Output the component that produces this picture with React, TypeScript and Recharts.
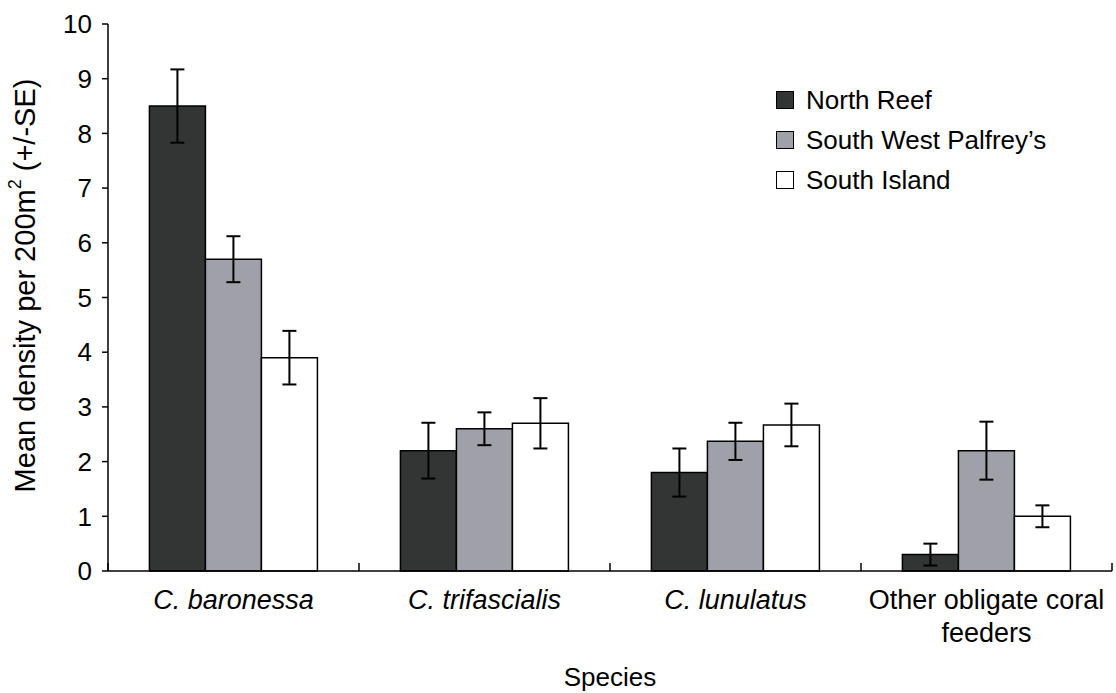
import { BarChart, Bar, XAxis, YAxis, ErrorBar, Legend } from 'recharts';

const species = ['C. baronessa', 'C. trifascialis', 'C. lunulatus', 'Other obligate coral feeders'];
const speciesTickLines = [['C. baronessa'], ['C. trifascialis'], ['C. lunulatus'], ['Other obligate coral', 'feeders']];
const speciesItalic = [true, true, true, false];

const northReef = [8.5, 2.2, 1.8, 0.3];
const northReefSE = [0.67, 0.51, 0.44, 0.2];
const southWestPalfreys = [5.7, 2.6, 2.37, 2.2];
const southWestPalfreysSE = [0.42, 0.3, 0.34, 0.53];
const southIsland = [3.9, 2.7, 2.67, 1.0];
const southIslandSE = [0.49, 0.46, 0.39, 0.2];

const yTicks = [0, 1, 2, 3, 4, 5, 6, 7, 8, 9, 10];

const series = [
  { key: 'nr', se: 'nrSE', name: 'North Reef', fill: '#333535' },
  { key: 'swp', se: 'swpSE', name: 'South West Palfrey\u2019s', fill: '#a0a1a8' },
  { key: 'si', se: 'siSE', name: 'South Island', fill: '#ffffff' },
];

const data = species.map((name, i) => ({
  name,
  nr: northReef[i],
  nrSE: northReefSE[i],
  swp: southWestPalfreys[i],
  swpSE: southWestPalfreysSE[i],
  si: southIsland[i],
  siSE: southIslandSE[i],
}));

const FONT = '"Liberation Sans", Arial, Helvetica, sans-serif';

const SpeciesTick = (props: any) => {
  const { x, y, payload, index } = props;
  const half = payload?.offset ?? 0;
  const lines = speciesTickLines[index] ?? [payload.value];
  return (
    <g>
      <line x1={x - half} x2={x - half} y1={y} y2={y - 8} stroke="#000" strokeWidth={1.5} />
      {index === species.length - 1 && (
        <line x1={x + half} x2={x + half} y1={y} y2={y - 8} stroke="#000" strokeWidth={1.5} />
      )}
      <text
        x={x}
        y={y + 38}
        textAnchor="middle"
        fontSize={27}
        fontFamily={FONT}
        fontStyle={speciesItalic[index] ? 'italic' : 'normal'}
        fill="#000"
      >
        {lines.map((l, i) => (
          <tspan key={i} x={x} dy={i === 0 ? 0 : 33}>
            {l}
          </tspan>
        ))}
      </text>
    </g>
  );
};

// rotated y-axis title, nudged a little above the plot's centre like the original
const YTitle = (props: any) => {
  const vb = props.viewBox || {};
  const cx = (vb.x ?? 0) + 25;
  const cy = (vb.y ?? 0) + (vb.height ?? 0) / 2 - 12;
  return (
    <text
      x={cx}
      y={cy}
      transform={`rotate(-90, ${cx}, ${cy})`}
      textAnchor="middle"
      dominantBaseline="central"
      fontSize={29}
      fontFamily={FONT}
      fill="#000"
    >
      Mean density per 200m<tspan dy={-10} fontSize={18}>2</tspan>
      <tspan dy={10}> (+/-SE)</tspan>
    </text>
  );
};

const renderLegend = () => (
  <div style={{ fontFamily: FONT, fontSize: 26, color: '#000' }}>
    {series.map((s) => (
      <div key={s.key} style={{ display: 'flex', alignItems: 'center', height: 40 }}>
        <span
          style={{
            display: 'inline-block',
            width: 16,
            height: 16,
            background: s.fill,
            border: '1.5px solid #000',
            marginRight: 12,
          }}
        />
        <span>{s.name}</span>
      </div>
    ))}
  </div>
);

export default function App() {
  return (
    <div style={{ position: 'fixed', left: 0, top: 0, width: 1116, height: 693, background: '#fff', fontFamily: FONT }}>
      <BarChart
        width={1116}
        height={693}
        data={data}
        margin={{ top: 24, right: 4, left: 0, bottom: 0 }}
        barCategoryGap="16.5%"
        barGap={0}
      >
        <XAxis
          dataKey="name"
          height={122}
          interval={0}
          tickLine={false}
          tickSize={0}
          tickMargin={0}
          axisLine={{ stroke: '#000', strokeWidth: 1.5 }}
          tick={<SpeciesTick />}
          label={{ value: 'Species', position: 'insideBottom', offset: 7, style: { fontSize: 26, fill: '#000', fontFamily: FONT } }}
        />
        <YAxis
          width={108}
          domain={[0, 10]}
          ticks={yTicks}
          interval={0}
          tickSize={6}
          tickMargin={10}
          axisLine={{ stroke: '#000', strokeWidth: 1.5 }}
          tickLine={{ stroke: '#000', strokeWidth: 1.5 }}
          tick={{ fontSize: 26, fill: '#000', fontFamily: FONT }}
          label={{ content: <YTitle /> }}
        />
        <Legend
          layout="horizontal"
          verticalAlign="middle"
          align="center"
          content={renderLegend}
          wrapperStyle={{ left: 776, top: 80, width: 330, height: 120 }}
        />
        {series.map((s) => (
          <Bar key={s.key} dataKey={s.key} name={s.name} fill={s.fill} stroke="#000" strokeWidth={1.5} isAnimationActive={false}>
            <ErrorBar dataKey={s.se} width={7} stroke="#000" strokeWidth={2} direction="y" isAnimationActive={false} />
          </Bar>
        ))}
      </BarChart>
    </div>
  );
}
